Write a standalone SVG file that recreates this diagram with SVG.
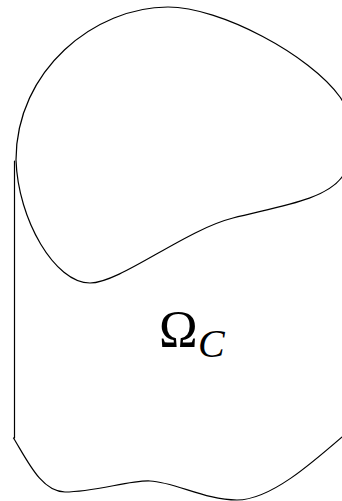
<svg xmlns="http://www.w3.org/2000/svg" width="342" height="501" viewBox="0 0 342 501">
<style>
.ln{fill:none;stroke:#000;stroke-width:1.2;stroke-linejoin:round;stroke-linecap:round}
</style>
<rect width="342" height="501" fill="#fff"/>
<g id="blob">
<path class="ln" d="M16,160 C16,70 95,7 168,7 C220,7 310,55 340,97 C355,118 356,158 342,177 C325,200 280,206 233,218 C185,230 120,283 90,283 C55,283 18,220 16,160 Z"/>
</g>
<g id="outer">
<path class="ln" d="M14.5,161 L14.5,438"/>
<path class="ln" d="M13.5,438 C28,462 42,492 65,492 C95,492 130,480 150,481 C175,482 205,500 237,500 C270,500 310,465 350,430"/>
</g>
<g id="label" font-family="'Liberation Serif', 'DejaVu Serif', serif" fill="#000">
<text x="159" y="347" font-size="52">Ω</text>
<text x="198" y="357" font-size="40" font-style="italic">C</text>
</g>
</svg>
